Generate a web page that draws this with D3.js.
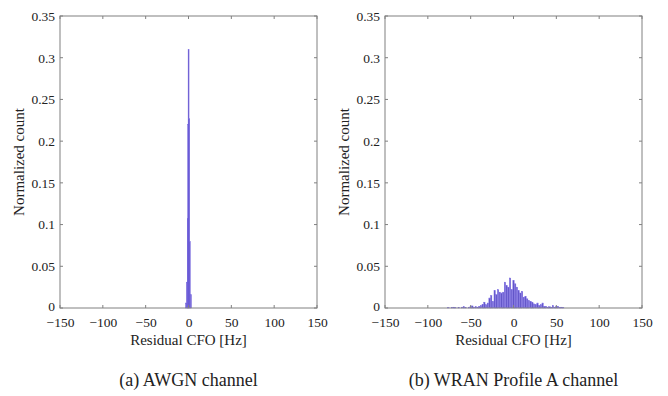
<!DOCTYPE html>
<html>
<head>
<meta charset="utf-8">
<script src="https://cdn.jsdelivr.net/npm/d3@7"></script>
<style>
  body { margin: 0; background: #fff; }
  svg text { font-family: "Liberation Serif", "Times New Roman", serif; fill: #222; }
</style>
</head>
<body>
<svg id="chart" width="668" height="396"></svg>
<script>
// x ticks and y ticks shared by both panels
const xTicks = [-150, -100, -50, 0, 50, 100, 150];
const yTicks = [0, 0.05, 0.1, 0.15, 0.2, 0.25, 0.3, 0.35];

// (a) AWGN channel: bin centre [Hz] and normalized count
const awgnCenters = [-3, -2, -1, -0.5, 0, 0.7, 1.5, 2.8];
const awgnCounts = [0.006, 0.031, 0.107, 0.22, 0.31, 0.227, 0.08, 0.016];
const awgnBinWidth = 1;

// (b) WRAN Profile A channel
const wranCenters = [-76, -72, -70, -68, -64, -60, -58, -56, -52, -50, -48, -46, -44, -42, -40,
  -38, -36, -34, -32, -30, -28, -26, -24, -22, -20, -18, -16, -14, -12, -10, -8, -6, -4, -2,
  0, 2, 4, 6, 8, 10, 12, 14, 16, 18, 20, 22, 24, 26, 28, 30, 32, 34, 36, 38, 40, 42, 44, 46,
  48, 50, 52, 54, 56, 58];
const wranCounts = [0.0005, 0.0008, 0.001, 0.0005, 0.0008, 0.001, 0.0015, 0.0005, 0.001, 0.002,
  0.0025, 0.001, 0.0015, 0.001, 0.002, 0.003, 0.0045, 0.007, 0.004, 0.006, 0.012, 0.015, 0.008,
  0.021, 0.016, 0.022, 0.019, 0.018, 0.019, 0.031, 0.027, 0.025, 0.036, 0.022, 0.033, 0.029,
  0.025, 0.021, 0.018, 0.02, 0.013, 0.014, 0.011, 0.009, 0.008, 0.007, 0.005, 0.004, 0.006,
  0.003, 0.004, 0.006, 0.002, 0.002, 0.001, 0.0015, 0.001, 0.003, 0.001, 0.0015, 0.002, 0.0008,
  0.001, 0.0005];
const wranBinWidth = 1.6;

const panels = [
  { left: 60, caption: "(a) AWGN channel", centers: awgnCenters, counts: awgnCounts, bw: awgnBinWidth },
  { left: 385, caption: "(b) WRAN Profile A channel", centers: wranCenters, counts: wranCounts, bw: wranBinWidth }
];

const plotTop = 16, plotW = 257, plotH = 292;
const serif = "'Liberation Serif', 'Times New Roman', serif";
const svg = d3.select("#chart");

panels.forEach(p => {
  const g = svg.append("g").attr("transform", `translate(${p.left},${plotTop})`)
    .attr("font-family", serif);
  const x = d3.scaleLinear().domain([-150, 150]).range([0, plotW]);
  const y = d3.scaleLinear().domain([0, 0.35]).range([plotH, 0]);

  // bars
  const bars = p.centers.map((c, i) => ({ c: c, v: p.counts[i] }));
  g.selectAll("rect.bar").data(bars).enter().append("rect")
    .attr("class", "bar")
    .attr("x", d => x(d.c - p.bw / 2))
    .attr("width", d => Math.max(1, x(d.c + p.bw / 2) - x(d.c - p.bw / 2)))
    .attr("y", d => y(d.v))
    .attr("height", d => plotH - y(d.v))
    .attr("fill", "#5345c2")
    .attr("fill-opacity", 0.9)
    .attr("stroke", "#7a6ae6")
    .attr("stroke-width", 0.4);

  // axes (ticks inward, MATLAB box style)
  const axColor = "#808080";
  const bottom = g.append("g").attr("transform", `translate(0,${plotH})`)
    .call(d3.axisBottom(x).tickValues(xTicks).tickSize(0).tickPadding(9)
      .tickFormat(d => d < 0 ? "\u2212" + Math.abs(d) : d));
  const leftAx = g.append("g")
    .call(d3.axisLeft(y).tickValues(yTicks).tickSize(0).tickPadding(5)
      .tickFormat(d => d === 0 ? "0" : d3.format("")(+d.toFixed(2))));
  [bottom, leftAx].forEach(a => {
    a.attr("font-family", serif).attr("font-size", 13.5);
    a.select(".domain").remove();
    a.selectAll("text").attr("fill", "#222");
  });
  // lift the zero label a touch so it clears the -150 label below it
  leftAx.selectAll(".tick").filter(d => d === 0).select("text").attr("dy", "0.2em");

  // frame
  g.append("rect").attr("width", plotW).attr("height", plotH)
    .attr("fill", "none").attr("stroke", axColor).attr("stroke-width", 1);

  // inward tick marks
  const tl = 3;
  xTicks.forEach(t => {
    g.append("line").attr("x1", x(t)).attr("x2", x(t)).attr("y1", plotH).attr("y2", plotH - tl)
      .attr("stroke", axColor);
    g.append("line").attr("x1", x(t)).attr("x2", x(t)).attr("y1", 0).attr("y2", tl)
      .attr("stroke", axColor);
  });
  yTicks.forEach(t => {
    g.append("line").attr("x1", 0).attr("x2", tl).attr("y1", y(t)).attr("y2", y(t))
      .attr("stroke", axColor);
    g.append("line").attr("x1", plotW).attr("x2", plotW - tl).attr("y1", y(t)).attr("y2", y(t))
      .attr("stroke", axColor);
  });

  // axis labels
  g.append("text").attr("x", plotW / 2).attr("y", plotH + 37)
    .attr("text-anchor", "middle").attr("font-size", 15).text("Residual CFO [Hz]");
  g.append("text").attr("transform", `translate(-36,${plotH / 2}) rotate(-90)`)
    .attr("text-anchor", "middle").attr("font-size", 15).text("Normalized count");

  // caption
  g.append("text").attr("x", plotW / 2).attr("y", plotH + 78)
    .attr("text-anchor", "middle").attr("font-size", 18).text(p.caption);
});
</script>
</body>
</html>
